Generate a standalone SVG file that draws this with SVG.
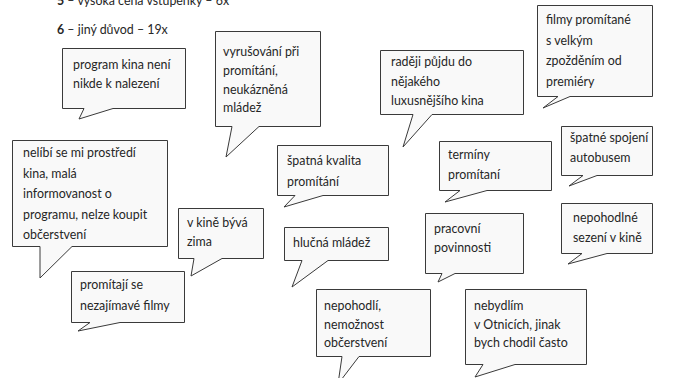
<svg xmlns="http://www.w3.org/2000/svg" width="682" height="378" viewBox="0 0 682 378">
<style>
.b{fill:#f9f9f9;stroke:#3a3a3a;stroke-width:1;stroke-linejoin:miter}
text{font-family:Lato,"Liberation Sans",sans-serif;font-size:12.4px;fill:#262626}
.bold{font-weight:bold}
</style>
<rect width="682" height="378" fill="#ffffff"/>
<g id="header">
<text x="57" y="4.5"><tspan class="bold">5</tspan> – vysoká cena vstupenky – 6x</text>
<text x="57" y="34"><tspan class="bold">6</tspan> – jiný důvod – 19x</text>
</g>
<g id="n1">
<path class="b" d="M62.5,48.5 H185.5 V108.5 H113 L79,119 L84,108.5 H62.5 Z"/>
<text x="73" y="69">program kina není</text>
<text x="73" y="88">nikde k nalezení</text>
</g>
<g id="n2">
<path class="b" d="M215.5,31.5 H320.5 V126.5 H259 L226,157 L232,126.5 H215.5 Z"/>
<text x="223" y="56">vyrušování při</text>
<text x="223" y="75">promítání,</text>
<text x="223" y="94">neukázněná</text>
<text x="223" y="112">mládež</text>
</g>
<g id="n3">
<path class="b" d="M380.5,50.5 H523.5 V114.5 H432 L403,147 L413,114.5 H380.5 Z"/>
<text x="391" y="66">raději půjdu do</text>
<text x="391" y="86">nějakého</text>
<text x="391" y="105">luxusnějšího kina</text>
</g>
<g id="n4">
<path class="b" d="M537.5,5.5 H652.5 V96.5 H570 L543,108 L558,96.5 H537.5 Z"/>
<text x="546" y="24">filmy promítané</text>
<text x="546" y="44.5">s velkým</text>
<text x="546" y="65">zpožděním od</text>
<text x="546" y="85.5">premiéry</text>
</g>
<g id="n5">
<path class="b" d="M12.5,140.5 H167.5 V246.5 H72 L40,278 L40,246.5 H12.5 Z"/>
<text x="23" y="156.5">nelíbí se mi prostředí</text>
<text x="23" y="177.5">kina, malá</text>
<text x="23" y="198">informovanost o</text>
<text x="23" y="218.5">programu, nelze koupit</text>
<text x="23" y="238.5">občerstvení</text>
</g>
<g id="n6">
<path class="b" d="M277.5,145.5 H388.5 V195.5 H323 L284,207 L295,195.5 H277.5 Z"/>
<text x="287" y="165">špatná kvalita</text>
<text x="287" y="186">promítání</text>
</g>
<g id="n7">
<path class="b" d="M439.5,141.5 H551.5 V190.5 H487 L445,202 L460,190.5 H439.5 Z"/>
<text x="448" y="159">termíny</text>
<text x="448" y="179">promítaní</text>
</g>
<g id="n8">
<path class="b" d="M561.5,126.5 H652.5 V175.5 H597 L569,186 L583,175.5 H561.5 Z"/>
<text x="570" y="142">špatné spojení</text>
<text x="570" y="162">autobusem</text>
</g>
<g id="n9">
<path class="b" d="M178.5,208.5 H263.5 V258.5 H222 L191,276 L194,258.5 H178.5 Z"/>
<text x="187" y="227">v kině bývá</text>
<text x="187" y="246">zima</text>
</g>
<g id="n10">
<path class="b" d="M284.5,227.5 H388.5 V260.5 H328 L292,287 L302,260.5 H284.5 Z"/>
<text x="293" y="247">hlučná mládež</text>
</g>
<g id="n11">
<path class="b" d="M425.5,213.5 H523.5 V273.5 H455 L438,282 L442,273.5 H425.5 Z"/>
<text x="434" y="233">pracovní</text>
<text x="434" y="252">povinnosti</text>
</g>
<g id="n12">
<path class="b" d="M561.5,203.5 H652.5 V253.5 H607 L568,264 L582,253.5 H561.5 Z"/>
<text x="573" y="222">nepohodlné</text>
<text x="573" y="242">sezení v kině</text>
</g>
<g id="n13">
<path class="b" d="M71.5,271.5 H184.5 V322.5 H120 L78,331 L90,322.5 H71.5 Z"/>
<text x="80" y="289">promítají se</text>
<text x="80" y="310">nezajímavé filmy</text>
</g>
<g id="n14">
<path class="b" d="M316.5,289.5 H430.5 V356.5 H359 L338,384 L342,356.5 H316.5 Z"/>
<text x="324" y="310">nepohodlí,</text>
<text x="324" y="328.5">nemožnost</text>
<text x="324" y="347">občerstvení</text>
</g>
<g id="n15">
<path class="b" d="M465.5,289.5 H586.5 V364.5 H515 L475,377 L483,364.5 H465.5 Z"/>
<text x="474" y="310">nebydlím</text>
<text x="474" y="328.5">v Otnicích, jinak</text>
<text x="474" y="347">bych chodil často</text>
</g>
<g id="connectors"/>
</svg>
